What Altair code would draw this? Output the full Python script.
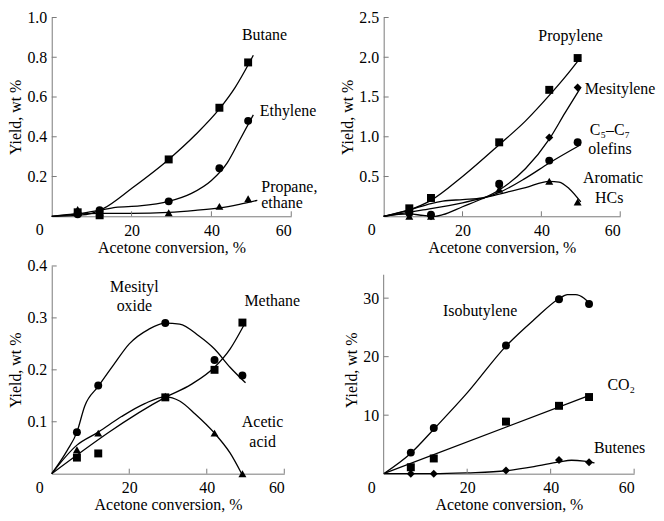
import altair as alt
import pandas as pd

FONT = "Liberation Serif"
GRAY = "#7a7a7a"

# ---------------- data ----------------
conv = [6.5, 12, 29.3, 42, 49.2]          # acetone conversion of the measured points, %
x_ticks = [20, 40, 60]
x_origin = [0]

# Panel 1
butane_y = [0.02, 0.005, 0.286, 0.546, 0.774]
ethylene_y = [0.01, 0.03, 0.075, 0.242, 0.48]
propane_y = [0.035, 0.02, 0.018, 0.05, 0.088]
butane_cx = [0, 6.5, 10, 13, 20, 29.3, 36, 42, 46, 50.5]
butane_cy = [0, 0.005, 0.015, 0.04, 0.14, 0.286, 0.41, 0.54, 0.65, 0.81]
ethylene_cx = [0, 6.5, 12, 16, 22, 29.3, 35, 40, 44, 47, 50.5]
ethylene_cy = [0, 0.012, 0.03, 0.045, 0.052, 0.075, 0.115, 0.18, 0.27, 0.38, 0.51]
propane_cx = [0, 6.5, 12, 20, 29.3, 36, 42, 47, 51.5]
propane_cy = [0, 0.012, 0.015, 0.015, 0.02, 0.03, 0.042, 0.06, 0.08]
p1_yticks = [0.2, 0.4, 0.6, 0.8, 1.0]

# Panel 2
propylene_y = [0.1, 0.23, 0.93, 1.59, 1.99]
mesitylene_y = [0.05, 0.0, 0.38, 0.99, 1.62]
olefins_y = [0.04, 0.02, 0.41, 0.70, 0.93]
aromatic_y = [0.0, 0.0, 0.34, 0.44, 0.18]
propylene_cx = [0, 6.5, 12, 20, 29.3, 36, 42, 46, 50]
propylene_cy = [0, 0.08, 0.2, 0.5, 0.9, 1.2, 1.52, 1.75, 2.0]
mesitylene_cx = [0, 6.5, 10, 13, 15, 20, 25, 29.3, 36, 42, 46, 50]
mesitylene_cy = [0, 0.03, 0.01, 0.0, 0.02, 0.12, 0.22, 0.33, 0.6, 0.97, 1.3, 1.62]
olefins_cx = [0, 6.5, 12, 15, 20, 25, 29.3, 36, 42, 50]
olefins_cy = [0, 0.08, 0.16, 0.19, 0.21, 0.23, 0.3, 0.48, 0.67, 0.9]
aromatic_cx = [0, 10, 20, 29.3, 36, 42, 44.5, 47, 50]
aromatic_cy = [0, 0.08, 0.17, 0.28, 0.36, 0.44, 0.43, 0.35, 0.18]
p2_yticks = [0.5, 1.0, 1.5, 2.0, 2.5]

# Panel 3
mesityl_y = [0.08, 0.17, 0.29, 0.219, 0.189]
methane_y = [0.031, 0.039, 0.147, 0.2, 0.291]
acetic_y = [0.046, 0.078, 0.149, 0.078, 0.0]
mesityl_cx = [0, 4, 6.5, 8.5, 12, 16, 20, 25, 29.3, 33, 38, 42, 46, 50]
mesityl_cy = [0, 0.045, 0.08, 0.13, 0.168, 0.21, 0.25, 0.278, 0.29, 0.288, 0.265, 0.24, 0.205, 0.175]
methane_cx = [0, 29.3, 36, 42, 46, 49.5]
methane_cy = [0, 0.147, 0.172, 0.205, 0.24, 0.285]
acetic_cx = [0, 6.5, 12, 18, 24, 29.3, 33, 37, 42, 46, 49]
acetic_cy = [0, 0.055, 0.08, 0.11, 0.135, 0.148, 0.14, 0.115, 0.078, 0.04, 0.0]
p3_yticks = [0.1, 0.2, 0.3, 0.4]

# Panel 4
isobutylene_y = [3.6, 7.8, 21.9, 29.8, 29.0]
co2_y = [1.1, 2.6, 8.9, 11.6, 13.1]
butenes_y = [0.0, 0.0, 0.55, 2.35, 1.95]
isobutylene_cx = [0, 6.5, 12, 20, 29.3, 36, 42, 44, 46, 48, 49.5]
isobutylene_cy = [0, 3.5, 7.6, 13.8, 21.8, 26.3, 29.9, 30.6, 30.6, 30.0, 29.0]
co2_cx = [0, 49]
co2_cy = [0, 13.3]
butenes_cx = [0, 12, 20, 29.3, 36, 42, 45, 48, 50.5]
butenes_cy = [0, 0.0, 0.15, 0.5, 1.2, 2.0, 2.3, 2.15, 1.85]
p4_yticks = [10, 20, 30]
p4_ytop = 34

# ---------------- helpers ----------------
XTITLE = "Acetone conversion, %"
YTITLE = "Yield, wt %"


def make_panel(series, labels, w, h, ydom, yticks, yfmt, yline_top=None):
    xscale = alt.Scale(domain=[0, 60], nice=False, zero=False)
    yscale = alt.Scale(domain=ydom, nice=False, zero=False)
    xaxis = alt.Axis(values=x_ticks, title=XTITLE, labelPadding=6, titlePadding=1)
    yaxis = alt.Axis(values=yticks, format=yfmt, title=YTITLE, labelPadding=5,
                     titlePadding=3, domain=(yline_top is None))

    def X(f):
        return alt.X(f"{f}:Q", scale=xscale, axis=xaxis)

    def Y(f):
        return alt.Y(f"{f}:Q", scale=yscale, axis=yaxis)

    crv_rows, pt_rows = [], []
    for name, shape, ys, cx, cy in series:
        for i, (a, b) in enumerate(zip(cx, cy)):
            crv_rows.append({"s": name, "x": a, "y": b, "o": i})
        for a, b in zip(conv, ys):
            pt_rows.append({"s": name, "x": a, "y": b, "shape": shape})
    crv = pd.DataFrame(crv_rows)
    pts = pd.DataFrame(pt_rows)
    lab = pd.DataFrame(labels, columns=["t", "x", "y", "al"])

    layers = []
    layers.append(
        alt.Chart(crv).mark_line(color="black", strokeWidth=1.3, interpolate="monotone")
        .encode(x=X("x"), y=Y("y"), detail="s:N", order="o:Q")
    )
    layers.append(
        alt.Chart(pts).mark_point(filled=True, color="black", opacity=1, size=64)
        .encode(x=X("x"), y=Y("y"), shape=alt.Shape("shape:N", scale=None))
    )
    for al in ["left", "center"]:
        sub = lab[lab["al"] == al]
        if len(sub):
            layers.append(
                alt.Chart(sub).mark_text(align=al, baseline="middle", font=FONT,
                                         fontSize=16, color="black")
                .encode(x=X("x"), y=Y("y"), text="t:N")
            )
    # inward ticks
    layers.append(
        alt.Chart(pd.DataFrame({"v": yticks})).mark_rule(color=GRAY, strokeWidth=1)
        .encode(y=Y("v"), x=alt.value(0), x2=alt.value(5))
    )
    layers.append(
        alt.Chart(pd.DataFrame({"v": x_ticks})).mark_rule(color=GRAY, strokeWidth=1)
        .encode(x=X("v"), y=alt.value(h), y2=alt.value(h - 5))
    )
    # origin label "0"
    layers.append(
        alt.Chart(pd.DataFrame({"v": x_origin, "t": [str(v) for v in x_origin]}))
        .mark_text(align="center", baseline="top", dx=-12, font=FONT, fontSize=16, color="black")
        .encode(x=X("v"), y=alt.value(h + 6), text="t:N")
    )
    if yline_top is not None:
        layers.append(
            alt.Chart(pd.DataFrame({"a": [0], "b": [0], "c": [yline_top]}))
            .mark_rule(color=GRAY, strokeWidth=1)
            .encode(x=X("a"), y=Y("b"), y2="c:Q")
        )
    return alt.layer(*layers).properties(width=w, height=h)


H1, H2 = 200, 209

p1 = make_panel(
    [("Butane", "square", butane_y, butane_cx, butane_cy),
     ("Ethylene", "circle", ethylene_y, ethylene_cx, ethylene_cy),
     ("Propane", "triangle-up", propane_y, propane_cx, propane_cy)],
    [("Butane", 53.3, 0.91, "center"),
     ("Ethylene", 59.2, 0.53, "center"),
     ("Propane,", 52.5, 0.147, "left"),
     ("ethane", 52.5, 0.069, "left")],
    241, H1, [0, 1.0], p1_yticks, ".1f")

p2 = make_panel(
    [("Propylene", "square", propylene_y, propylene_cx, propylene_cy),
     ("Mesitylene", "diamond", mesitylene_y, mesitylene_cx, mesitylene_cy),
     ("Olefins", "circle", olefins_y, olefins_cx, olefins_cy),
     ("Aromatic", "triangle-up", aromatic_y, aromatic_cx, aromatic_cy)],
    [("Propylene", 47.4, 2.27, "center"),
     ("Mesitylene", 51.0, 1.6, "left"),
     ("C₅–C₇", 57.4, 1.08, "center"),
     ("olefins", 57.4, 0.85, "center"),
     ("Aromatic", 58.2, 0.48, "center"),
     ("HCs", 57.2, 0.23, "center")],
    238, H1, [0, 2.5], p2_yticks, ".1f")

p3 = make_panel(
    [("Mesityl oxide", "circle", mesityl_y, mesityl_cx, mesityl_cy),
     ("Methane", "square", methane_y, methane_cx, methane_cy),
     ("Acetic acid", "triangle-up", acetic_y, acetic_cx, acetic_cy)],
    [("Mesityl", 21.3, 0.36, "center"),
     ("oxide", 21.3, 0.323, "center"),
     ("Methane", 56.9, 0.332, "center"),
     ("Acetic", 54.4, 0.10, "center"),
     ("acid", 54.4, 0.06, "center")],
    234, H2, [0, 0.4], p3_yticks, ".1f")

p4 = make_panel(
    [("Isobutylene", "circle", isobutylene_y, isobutylene_cx, isobutylene_cy),
     ("CO2", "square", co2_y, co2_cx, co2_cy),
     ("Butenes", "diamond", butenes_y, butenes_cx, butenes_cy)],
    [("Isobutylene", 23.1, 27.8, "center"),
     ("CO₂", 56.9, 15.2, "center"),
     ("Butenes", 56.5, 4.35, "center")],
    252, H2, [0, 35.5], p4_yticks, "d", yline_top=p4_ytop)

chart = (
    alt.concat(p1, p2, p3, p4, columns=2, spacing={"row": 50, "column": 93}, bounds="flush")
    .properties(padding={"left": 0, "top": 0, "right": 0, "bottom": 0})
    .configure_view(stroke=None)
    .configure_axis(
        labelFont=FONT, titleFont=FONT, labelFontSize=16, titleFontSize=16,
        titleFontWeight="normal", labelColor="black", titleColor="black",
        grid=False, ticks=False, tickSize=0, domainColor=GRAY, domainWidth=1,
    )
)

chart.save("out.html", embed_options={"renderer": "svg", "actions": False})
